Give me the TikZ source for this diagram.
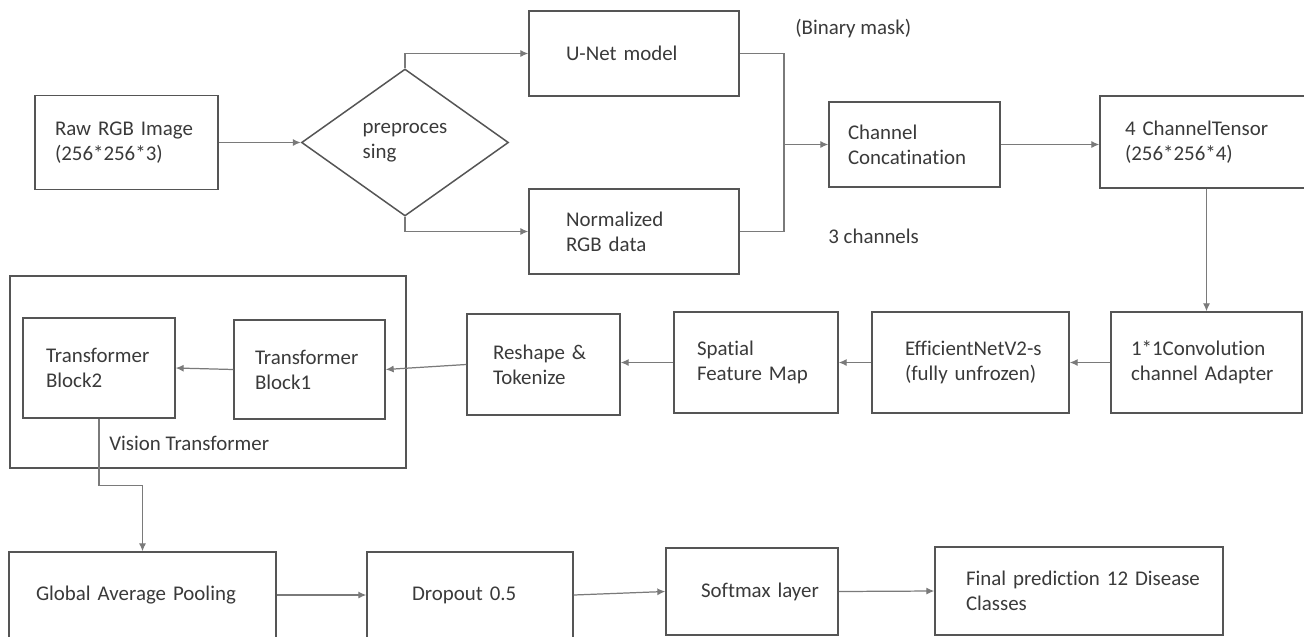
\documentclass[tikz,border=0pt]{standalone}
\usepackage{fontspec}
\setmainfont{Carlito}[Ligatures=NoCommon]
\usetikzlibrary{shapes.geometric,arrows.meta}
\newdimen\upx \upx=0.02cm
\definecolor{boxline}{HTML}{555555}
\definecolor{conn}{HTML}{7A7A7A}
\definecolor{txt}{HTML}{3A3A3A}
\begin{document}
\begin{tikzpicture}[x=0.02cm,y=-0.02cm,
  font=\fontsize{11.9pt}{14.2pt}\selectfont,
  box/.style={draw=boxline, line width=0.85pt, rectangle, inner sep=0pt, align=left, text=txt},
  arr/.style={draw=conn, line width=0.7pt, -{Latex[length=4.5pt,width=4pt]}},
  ln/.style={draw=conn, line width=0.7pt},
  lbl/.style={text=txt, anchor=west, inner sep=0pt}]
\clip (0,0) rectangle (1304,636);
\fill[white] (0,0) rectangle (1304,636);

% top row
\node[box, minimum width=183\upx, minimum height=94\upx, text width=143\upx] (raw) at (126.5,142.5) {\mbox{Raw RGB Image}\\\mbox{(256*256*3)}};
\node[draw=boxline, line width=0.85pt, diamond, minimum width=207\upx, minimum height=147\upx, inner sep=0pt, align=left, text=txt] (dia) at (405,142.5) {preproces\\sing};
\node[box, minimum width=210\upx, minimum height=85\upx, text width=136\upx] (unet) at (634,53.5) {\mbox{U-Net model}};
\node[box, minimum width=210\upx, minimum height=85\upx, text width=136\upx] (norm) at (634,231.5) {\mbox{Normalized}\\\mbox{RGB data}};
\node[box, minimum width=171\upx, minimum height=85\upx, text width=133\upx] (concat) at (914.5,144.5) {\mbox{Channel}\\\mbox{Concatination}};
\node[box, minimum width=220\upx, minimum height=92\upx, text width=170\upx] (ch4) at (1210,142) {\mbox{4 ChannelTensor}\\\mbox{(256*256*4)}};
\node[lbl] (bm) at (795,29) {(Binary mask)};
\node[lbl] (c3) at (828,236) {3 channels};
\coordinate (j) at (784,144.5);

% middle row
\node[box, minimum width=191\upx, minimum height=101\upx, text width=151\upx] (conv) at (1206.5,362.5) {\mbox{1*1Convolution}\\\mbox{channel Adapter}};
\node[box, minimum width=197\upx, minimum height=101\upx, text width=131\upx] (eff) at (970.5,362.5) {\mbox{EfficientNetV2-s}\\\mbox{(fully unfrozen)}};
\node[box, minimum width=164\upx, minimum height=101\upx, text width=118\upx] (spat) at (756,362.5) {\mbox{Spatial}\\\mbox{Feature Map}};
\node[box, minimum width=153\upx, minimum height=101\upx, text width=101\upx] (resh) at (543.5,364.5) {\mbox{Reshape \&}\\\mbox{Tokenize}};
\node[box, minimum width=396\upx, minimum height=192\upx] (vit) at (208,372) {};
\node[box, minimum width=151\upx, minimum height=99\upx, text width=109\upx] (tb1) at (309.5,369.5) {\mbox{Transformer}\\\mbox{Block1}};
\node[box, minimum width=152\upx, minimum height=100\upx, text width=106\upx] (tb2) at (99,368) {\mbox{Transformer}\\\mbox{Block2}};
\node[lbl] (vitl) at (109,443) {Vision Transformer};

% bottom row
\node[box, minimum width=267\upx, minimum height=86\upx, text width=213\upx] (gap) at (142.5,595) {\mbox{Global Average Pooling}};
\node[box, minimum width=206\upx, minimum height=86\upx, text width=116\upx] (drop) at (470,595) {\mbox{Dropout 0.5}};
\node[box, minimum width=172\upx, minimum height=87\upx, text width=102\upx] (soft) at (752,591.5) {\mbox{Softmax layer}};
\node[box, minimum width=288\upx, minimum height=88\upx, text width=226\upx] (fin) at (1079,591) {\mbox{Final prediction 12 Disease}\\\mbox{Classes}};

% connectors
\draw[arr] (raw.east) -- (dia.west);
\draw[arr] (dia.north) |- (unet.west);
\draw[arr] (dia.south) |- (norm.west);
\draw[ln] (unet.east) -| (j);
\draw[ln] (norm.east) -| (j);
\draw[arr] (j) -- (concat.west);
\draw[arr] (concat.east) -- (concat.east -| ch4.west);
\draw[arr] (conv.north |- ch4.south) -- (conv.north);
\draw[arr] (conv.west) -- (eff.east);
\draw[arr] (eff.west) -- (spat.east);
\draw[arr] (spat.west) -- (spat.west -| resh.east);
\draw[arr] (resh.west) -- (tb1.east);
\draw[arr] (tb1.west) -- (tb2.east);
\draw[arr] (tb2.south) -- ++(0,67) -| (gap.north);
\draw[arr] (gap.east) -- (drop.west);
\draw[arr] (drop.east) -- (soft.west);
\draw[arr] (soft.east) -- (fin.west);
\end{tikzpicture}
\end{document}
